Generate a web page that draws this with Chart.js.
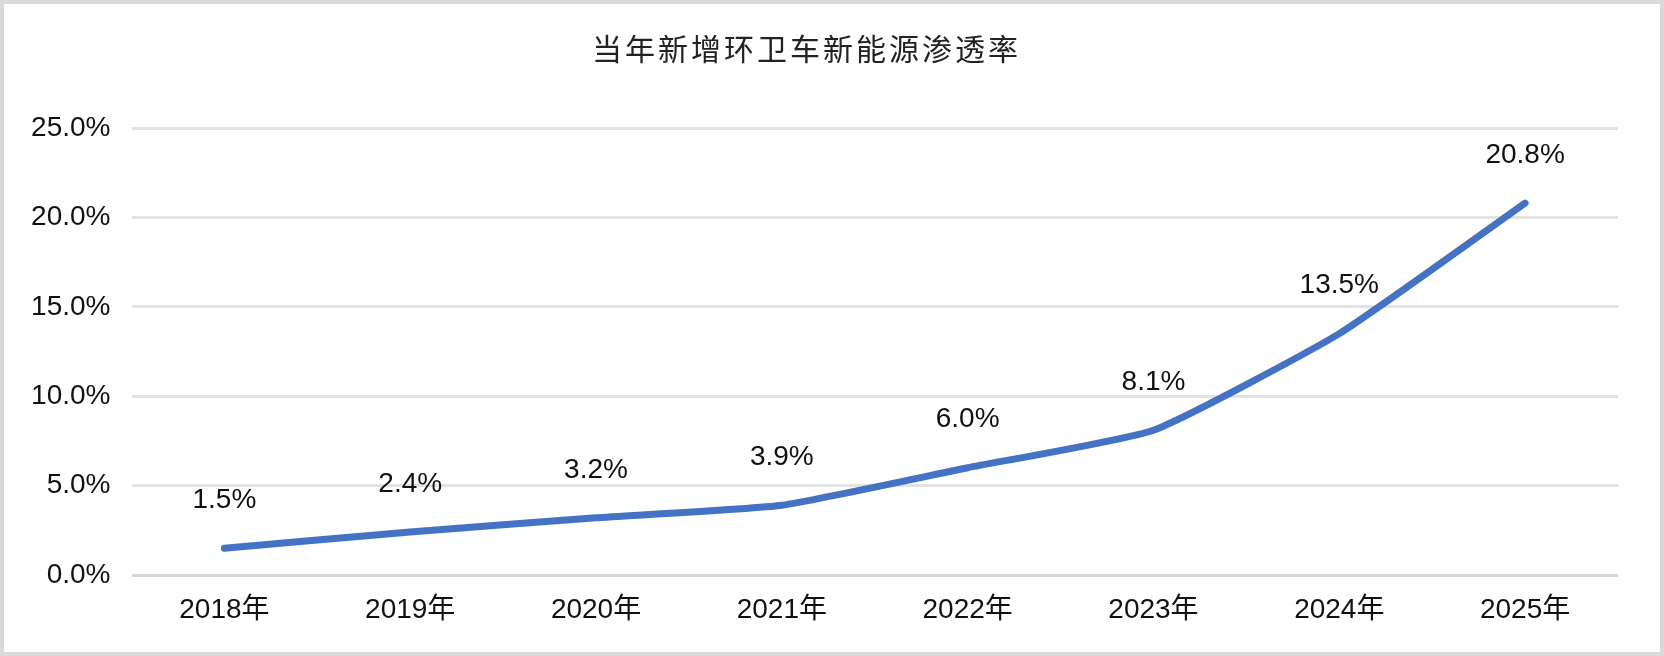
<!DOCTYPE html>
<html>
<head>
<meta charset="utf-8">
<script src="https://cdn.jsdelivr.net/npm/chart.js@4"></script>
<style>
  html, body { margin: 0; padding: 0; background: #fff; }
  #box {
    width: 1664px; height: 656px; box-sizing: border-box;
    border: 4px solid #d9d9d9; background: #fff;
  }
  #box canvas { display: block; }
</style>
</head>
<body>
<div id="box"><canvas id="myChart" width="1656" height="648"></canvas></div>
<script>
/* данные графика */
const chartTitle = "当年新增环卫车新能源渗透率";
const years = ["2018年", "2019年", "2020年", "2021年", "2022年", "2023年", "2024年", "2025年"];
const penetration = [1.5, 2.4, 3.2, 3.9, 6.0, 8.1, 13.5, 20.8];
const yTicks = [0, 5, 10, 15, 20, 25];

const FONT = "'Liberation Sans', Arial, 'Noto Sans CJK SC', sans-serif";

/* заголовок с разрядкой букв */
const titlePlugin = {
  id: "spacedTitle",
  afterDraw(chart) {
    const ctx = chart.ctx;
    ctx.save();
    ctx.font = "30px 'Noto Sans CJK SC', sans-serif";
    ctx.fillStyle = "#222";
    ctx.textAlign = "left";
    ctx.textBaseline = "middle";
    ctx.letterSpacing = "3px";
    ctx.fillText(chartTitle, 588, 45);
    ctx.restore();
  }
};

/* подписи значений над точками */
const valueLabels = {
  id: "valueLabels",
  afterDatasetsDraw(chart) {
    const ctx = chart.ctx;
    const meta = chart.getDatasetMeta(0);
    ctx.save();
    ctx.font = "28px " + FONT;
    ctx.fillStyle = "#111";
    ctx.textAlign = "center";
    ctx.textBaseline = "middle";
    meta.data.forEach((pt, i) => {
      ctx.fillText(penetration[i].toFixed(1) + "%", pt.x, pt.y - 48);
    });
    ctx.restore();
  }
};

const canvaNode = document.getElementById("myChart");

new Chart(canvaNode, {
  type: "line",
  data: {
    labels: years,
    datasets: [{
      label: chartTitle,
      data: penetration,
      borderColor: "#4472C4",
      borderWidth: 7,
      borderCapStyle: "round",
      borderJoinStyle: "round",
      pointRadius: 0,
      tension: 0.15,
      fill: false
    }]
  },
  options: {
    responsive: false,
    animation: false,
    layout: { padding: { left: 0, right: 42, top: 124, bottom: 0 } },
    plugins: {
      legend: { display: false },
      title: { display: false },
      tooltip: { enabled: false }
    },
    scales: {
      x: {
        offset: true,
        afterFit(scale) { scale.height = 77; },
        grid: { display: false, drawTicks: false },
        border: { display: false },
        ticks: {
          color: "#111",
          padding: 18,
          maxRotation: 0,
          font: { size: 28, family: FONT }
        }
      },
      y: {
        min: 0,
        max: 25,
        afterFit(scale) { scale.width = 127.5; },
        afterBuildTicks(scale) { scale.ticks = yTicks.map(v => ({ value: v })); },
        grid: {
          color: ctx => (ctx.tick && ctx.tick.value === 0 ? "#d6d6d6" : "#e3e3e3"),
          lineWidth: 3,
          drawTicks: false
        },
        border: { display: false },
        ticks: {
          color: "#111",
          padding: 21,
          font: { size: 28, family: FONT },
          callback: v => v.toFixed(1) + "%"
        }
      }
    }
  },
  plugins: [titlePlugin, valueLabels]
});
</script>
</body>
</html>
